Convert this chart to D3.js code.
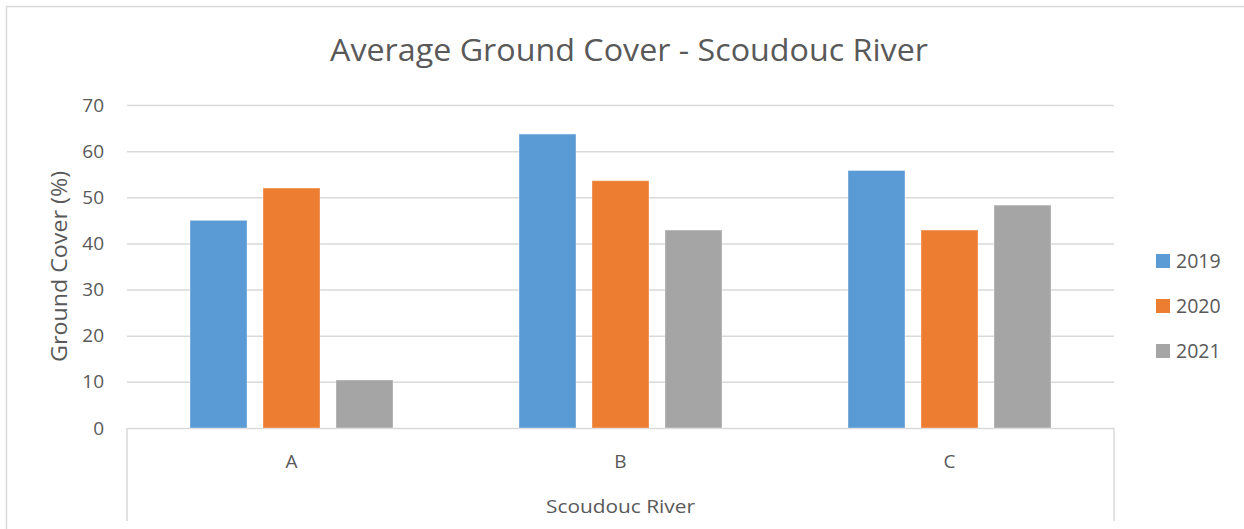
<!DOCTYPE html>
<html>
<head>
<meta charset="utf-8">
<script src="https://cdn.jsdelivr.net/npm/d3@7/dist/d3.min.js"></script>
<style>
  html, body { margin: 0; padding: 0; background: #fff; }
  svg { display: block; font-family: "Open Sans", "Noto Sans", sans-serif; }
</style>
</head>
<body>
<svg id="chart" width="1244" height="529"></svg>
<script>
// Sites along the river and the survey years
const categories = ["A", "B", "C"];
const years = ["2019", "2020", "2021"];
const values2019 = [45.0, 63.7, 55.8];
const values2020 = [52.0, 53.6, 42.9];
const values2021 = [10.4, 42.9, 48.3];
const yTicks = [0, 10, 20, 30, 40, 50, 60, 70];
const colors = ["#5B9BD5", "#ED7D31", "#A5A5A5"];
const chartTitle = "Average Ground Cover - Scoudouc River";
const yTitle = "Ground Cover (%)";
const xTitle = "Scoudouc River";

const seriesValues = [values2019, values2020, values2021];
const rows = categories.map((c, i) => ({
  category: c,
  values: years.map((y, j) => ({ year: y, value: seriesValues[j][i], color: colors[j] }))
}));

const svg = d3.select("#chart");
const textColor = "#595959";
const gridColor = "#D9D9D9";

const plot = { left: 127, right: 1114, top: 105, bottom: 428 };

// Chart area border (runs off the right and bottom edges)
svg.append("rect")
  .attr("x", 6.5).attr("y", 6.5)
  .attr("width", 1260).attr("height", 540)
  .attr("fill", "none").attr("stroke", gridColor).attr("stroke-width", 1.5);

const x = d3.scaleBand().domain(categories).range([plot.left, plot.right]).paddingInner(0).paddingOuter(0);
const groupWidth = 203;
const xInner = d3.scaleBand().domain(years)
  .range([-groupWidth / 2, groupWidth / 2]).paddingInner(16 / 73).paddingOuter(0);
const y = d3.scaleLinear().domain([0, 70]).range([plot.bottom, plot.top]);

// Horizontal gridlines
svg.append("g")
  .attr("transform", `translate(${plot.left},0)`)
  .call(d3.axisLeft(y).tickValues(yTicks).tickSize(-(plot.right - plot.left)).tickFormat(""))
  .call(g => g.select(".domain").remove())
  .call(g => g.selectAll("line").attr("stroke", gridColor).attr("stroke-width", 1.5));

// Y tick labels
svg.append("g")
  .attr("transform", `translate(${plot.left - 23},0)`)
  .call(d3.axisLeft(y).tickValues(yTicks).tickSize(0).tickPadding(0))
  .call(g => g.select(".domain").remove())
  .call(g => g.selectAll("text")
    .attr("fill", textColor)
    .attr("font-family", "'Open Sans', sans-serif")
    .attr("font-size", 19));

// Bars
const groups = svg.append("g").selectAll("g").data(rows).join("g")
  .attr("transform", d => `translate(${x(d.category) + x.bandwidth() / 2},0)`);
groups.selectAll("rect").data(d => d.values).join("rect")
  .attr("x", d => xInner(d.year))
  .attr("y", d => y(d.value))
  .attr("width", xInner.bandwidth())
  .attr("height", d => y(0) - y(d.value))
  .attr("fill", d => d.color)
  .attr("stroke", "#ffffff").attr("stroke-opacity", 0.35).attr("stroke-width", 1);

// Multi-level category axis frame
const axisBottom = 521;
svg.append("g").selectAll("line").data([plot.left, plot.right]).join("line")
  .attr("x1", d => d).attr("x2", d => d)
  .attr("y1", plot.bottom).attr("y2", axisBottom)
  .attr("stroke", gridColor).attr("stroke-width", 1.5);

// Category labels
svg.append("g").selectAll("text").data(categories).join("text")
  .attr("x", d => x(d) + x.bandwidth() / 2)
  .attr("y", 468)
  .attr("text-anchor", "middle")
  .attr("fill", textColor)
  .attr("font-size", 19)
  .text(d => d);

// Group label under the categories
svg.append("text")
  .attr("x", (plot.left + plot.right) / 2)
  .attr("y", 513)
  .attr("text-anchor", "middle")
  .attr("fill", textColor)
  .attr("font-size", 19)
  .attr("textLength", 149).attr("lengthAdjust", "spacingAndGlyphs")
  .text(xTitle);

// Chart title
svg.append("text")
  .attr("x", 629)
  .attr("y", 61)
  .attr("text-anchor", "middle")
  .attr("fill", textColor)
  .attr("font-size", 31)
  .attr("textLength", 598).attr("lengthAdjust", "spacingAndGlyphs")
  .text(chartTitle);

// Y axis title
svg.append("text")
  .attr("transform", `translate(67,${(plot.top + plot.bottom) / 2}) rotate(-90)`)
  .attr("text-anchor", "middle")
  .attr("fill", textColor)
  .attr("font-size", 21)
  .attr("textLength", 191).attr("lengthAdjust", "spacingAndGlyphs")
  .text(yTitle);

// Legend
const legendY = d3.scalePoint().domain(years).range([261, 351]);
const legend = svg.append("g").selectAll("g").data(years).join("g")
  .attr("transform", d => `translate(1156,${legendY(d)})`);
legend.append("rect")
  .attr("x", 0).attr("y", -7).attr("width", 14).attr("height", 14)
  .attr("fill", (d, i) => colors[i]);
legend.append("text")
  .attr("x", 20).attr("y", 0).attr("dy", "0.35em")
  .attr("fill", textColor)
  .attr("font-size", 19.5)
  .text(d => d);
</script>
</body>
</html>
